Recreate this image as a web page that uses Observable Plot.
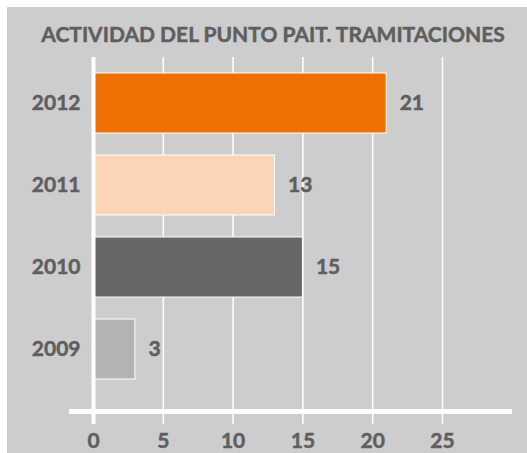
<!DOCTYPE html>
<html>
<head>
<meta charset="utf-8">
<script src="https://cdn.jsdelivr.net/npm/d3@7"></script>
<script src="https://cdn.jsdelivr.net/npm/@observablehq/plot@0.6"></script>
<style>
  html, body { margin: 0; padding: 0; background: #ffffff; }
  #chart { position: absolute; left: 7px; top: 7px; width: 520px; height: 446px; background: #cdcdcd; overflow: hidden; }
  #title { height: 50px; line-height: 50px; padding-top: 2px; box-sizing: border-box; padding-left: 12px; text-align: center;
           font-family: Lato, sans-serif; font-weight: bold; font-size: 21px; color: #5f5f5f; white-space: nowrap;
           -webkit-text-stroke: 0.5px #5f5f5f; }
  svg { display: block; }
  svg text { stroke: #5f5f5f; stroke-width: 0.5px; }
</style>
</head>
<body>
<div id="chart"><div id="title">ACTIVIDAD DEL PUNTO PAIT. TRAMITACIONES</div></div>
<script>
const years = ["2012", "2011", "2010", "2009"];
const values = [21, 13, 15, 3];
const barColors = ["#ED7000", "#FBD5B5", "#666666", "#B3B3B3"];
const xTicks = [0, 5, 10, 15, 20, 25];
const xMax = 29.8;

const data = years.map((y, i) => ({year: y, value: values[i]}));
const textColor = "#5f5f5f";
const font = {fontFamily: "Lato, sans-serif", fontWeight: "bold", fontSize: 21};

const chart = Plot.plot({
  width: 520,
  height: 396,
  marginTop: 0,
  marginBottom: 42,
  marginLeft: 86,
  marginRight: 18,
  style: {background: "transparent", fontFamily: "Lato, sans-serif", fontWeight: "bold", fontSize: "21px", color: textColor},
  x: {domain: [0, xMax]},
  y: {domain: years, paddingInner: 0.27, paddingOuter: 0.28, align: 0.33},
  color: {domain: years, range: barColors},
  marks: [
    Plot.ruleX(xTicks.slice(1), {stroke: "white", strokeWidth: 1.5}),
    Plot.barX(data, {x: "value", y: "year", fill: "year", stroke: "white", strokeWidth: 1}),
    Plot.ruleX([0], {stroke: "white", strokeWidth: 4}),
    Plot.frame({anchor: "bottom", stroke: "white", strokeWidth: 5, insetLeft: -22}),
    Plot.axisX(xTicks, {tickSize: 13, tickPadding: 9, stroke: "white", strokeWidth: 1.5, fill: textColor, label: null, ...font}),
    Plot.axisX([0], {tickSize: 13, stroke: "white", strokeWidth: 4, tickFormat: () => "", label: null}),
    Plot.axisY({tickSize: 0, tickPadding: 13, label: null, fill: textColor, ...font}),
    Plot.text(data, {x: "value", y: "year", text: d => String(d.value), textAnchor: "start", dx: 13, fill: textColor, ...font})
  ]
});
document.getElementById("chart").appendChild(chart);
</script>
</body>
</html>
